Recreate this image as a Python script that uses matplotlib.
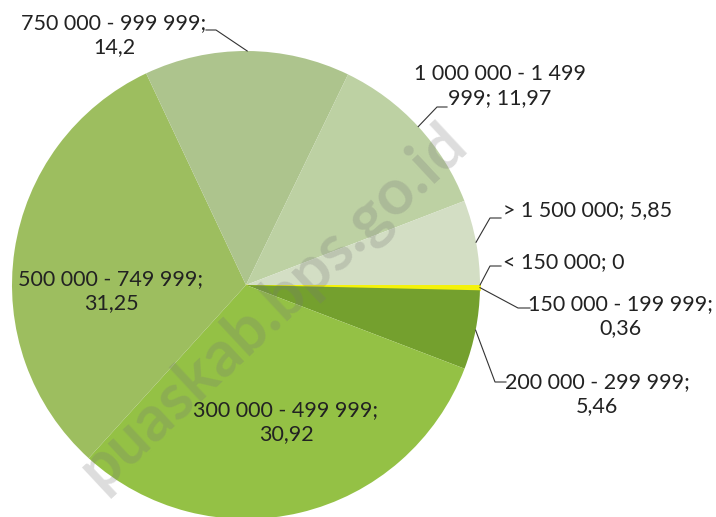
import numpy as np
import matplotlib.pyplot as plt

# income groups (rupiah) and share (%)
groups = ["< 150 000", "150 000 - 199 999", "200 000 - 299 999",
          "300 000 - 499 999", "500 000 - 749 999", "750 000 - 999 999",
          "1 000 000 - 1 499 999", "> 1 500 000"]
shares = [0, 0.36, 5.46, 30.92, 31.25, 14.2, 11.97, 5.85]
share_text = ["0", "0,36", "5,46", "30,92", "31,25", "14,2", "11,97", "5,85"]
colors = ["#c9d6b6", "#f4f20a", "#74a02e", "#94c145", "#9dbe5f",
          "#adc48d", "#bdd1a3", "#d3dec4"]

W, H = 716, 517
cx, cy, R = 246, 517 - 285, 234

plt.rcParams['font.family'] = ['Lato', 'DejaVu Sans']

fig = plt.figure(figsize=(W / 100, H / 100), dpi=100)
ax = fig.add_axes([0, 0, 1, 1])

wedges, _ = ax.pie(shares, colors=colors, startangle=0, counterclock=False,
                   center=(cx, cy), radius=R, frame=True,
                   wedgeprops=dict(linewidth=0))
wedges[1].set_edgecolor("#f4f20a")
wedges[1].set_linewidth(1.2)
ax.set_xlim(0, W)
ax.set_ylim(0, H)
ax.axis('off')

# watermark
ax.text(272, H - 306, "puaskab.bps.go.id", rotation=43, fontsize=46,
        fontweight='bold', color='#777777', alpha=0.25,
        ha='center', va='center', zorder=5)

fs = 15.5
# label placement: text x, text y (px from top), alignment
layout = {
    0: (503, 262, 'left'),
    1: (620, 316, 'center'),
    2: (597, 394, 'center'),
    3: (286, 422, 'center'),
    4: (111, 291, 'center'),
    5: (114, 35, 'center'),
    6: (500, 86, 'center'),
    7: (503, 210, 'left'),
}
labels = [f"{g}; {t}" for g, t in zip(groups, share_text)]
labels[1] = "150 000 - 199 999;\n0,36"
labels[2] = "200 000 - 299 999;\n5,46"
labels[3] = "300 000 - 499 999;\n30,92"
labels[4] = "500 000 - 749 999;\n31,25"
labels[5] = "750 000 - 999 999;\n14,2"
labels[6] = "1 000 000 - 1 499\n999; 11,97"

for i, w in enumerate(wedges):
    tx, ty, ha = layout[i]
    ax.text(tx, H - ty, labels[i], fontsize=fs, ha=ha, va='center',
            color='#222222', linespacing=1.2, zorder=6)

# leader lines from wedge mid-angle on the rim
leaders = {
    0: ((490, 266), (501, 266)),
    1: ((518, 308), (530, 308)),
    2: ((495, 382), (506, 382)),
    5: ((216, 30), (206, 30)),
    6: ((437, 107), (447, 107)),
    7: ((490, 218), (501, 218)),
}
for i, (elbow, end) in leaders.items():
    w = wedges[i]
    mid = np.deg2rad((w.theta1 + w.theta2) / 2)
    px, py = cx + R * np.cos(mid), cy + R * np.sin(mid)
    ax.plot([px, elbow[0], end[0]], [py, H - elbow[1], H - end[1]],
            color='#333333', lw=0.8, zorder=6)

fig.savefig("out.png", dpi=100)
